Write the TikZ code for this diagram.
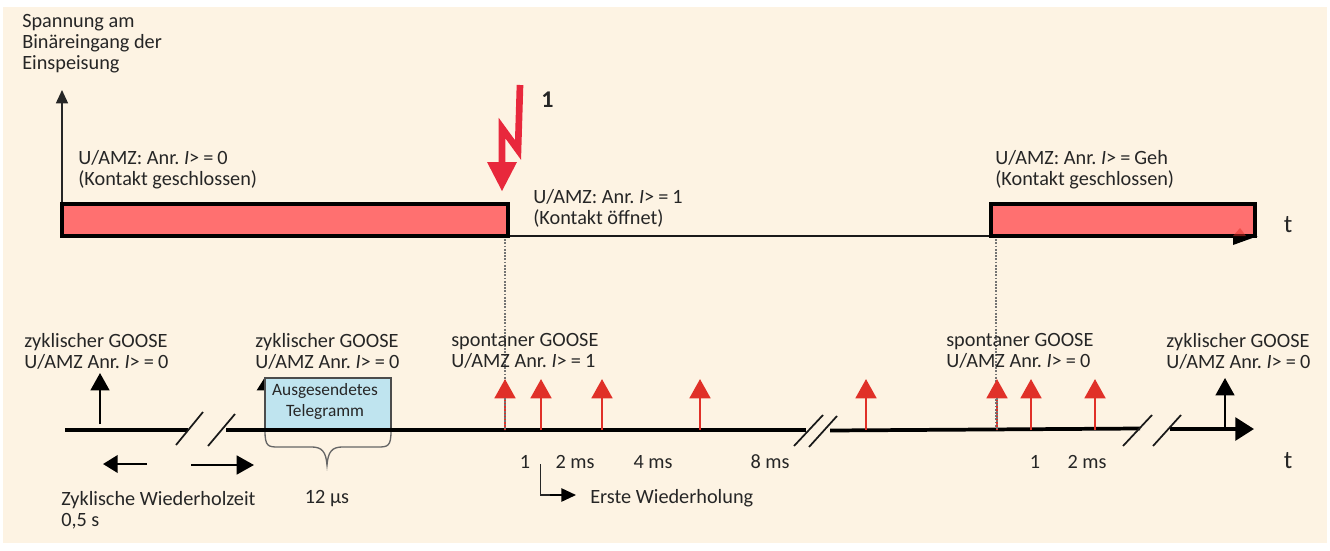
\documentclass[tikz,border=0pt]{standalone}
\usepackage{fontspec}
\setmainfont{Carlito}
\usetikzlibrary{arrows.meta}
\definecolor{bgcream}{HTML}{FDF3E3}
\definecolor{pulsered}{HTML}{FF7070}
\definecolor{boltred}{HTML}{E8283C}
\definecolor{arrowred}{HTML}{E03028}
\definecolor{boxblue}{HTML}{BFE4EF}
\tikzset{
  lbl/.style={anchor=west,inner sep=0pt,font=\fontsize{15.2}{15.75}\selectfont,align=left,text=black!85},
  tick/.style={anchor=center,inner sep=0pt,font=\fontsize{15.2}{15.75}\selectfont,text=black!85},
  pulse/.style={draw=black,line width=2.8pt,fill=pulsered},
  track/.style={line width=2.8pt,black},
  slash/.style={line width=1.3pt,black!90},
  redup/.style={line width=2.2pt,arrowred,-{Triangle[length=14.5pt,width=15.5pt]}},
  blackup/.style={line width=1.8pt,black,-{Triangle[length=13pt,width=14pt]}},
  dots/.style={densely dotted,line width=1.4pt,black!55}
}
\newcommand{\anr}{Anr.\ \textit{I}>\hspace{.2em}=\hspace{.2em}}
\begin{document}
\begin{tikzpicture}[x=0.75pt,y=-0.75pt]
\useasboundingbox (0,0) rectangle (1330,550);
\fill[bgcream] (3,7) rectangle (1327,543);

% upper trace
\draw[line width=1.1pt,black!85,-{Triangle[length=10pt,width=9pt]}] (62,236) to (62,90);
\draw[dots] (505,236) to (505,430);
\draw[dots] (996,236) to (996,430);
\draw[line width=1.5pt,black!90] (508,236) to (991,236);
\draw[pulse] (62,204) rectangle (508,236);
\draw[pulse] (991,204) rectangle (1255,236);
\fill[black] (1233,236) -- (1258,236) -- (1233,245) -- cycle;
\fill[arrowred,opacity=.5] (1233,236) -- (1240,228) -- (1246,236) -- cycle;

% lightning
\draw[boltred,line width=5pt,miter limit=10] (520,85) -- (518,150) -- (502,128) -- (502,165);
\fill[boltred] (487,162) -- (517,162) -- (502,191) -- cycle;

\node[lbl] (axislabel) at (22,44) {Spannung am\\Binäreingang der\\Einspeisung};
\node[lbl,font=\fontsize{18}{15.75}\selectfont\bfseries] (boltlabel) at (541,100) {1};
\node[lbl] (stateone) at (78,170) {U/AMZ: \anr 0\\(Kontakt geschlossen)};
\node[lbl] (statetwo) at (533,208) {U/AMZ: \anr 1\\(Kontakt öffnet)};
\node[lbl] (statethree) at (995,170) {U/AMZ: \anr Geh\\(Kontakt geschlossen)};
\node[tick,font=\fontsize{19}{19}\selectfont] (tupper) at (1288,225) {t};

% lower time line
\draw[blackup,-{Triangle[length=10pt,width=12pt]}] (265,430) to (265,377);
\draw[black!70,fill=boxblue,line width=1.2pt] (265,430) rectangle (391,378);
\node[tick,font=\fontsize{13}{15.75}\selectfont,align=center] (telegram) at (325,401) {Ausgesendetes\\Telegramm};
\draw[black!60,line width=1pt] (265,431) .. controls (265,446) and (268,447) .. (278,447) -- (312,447) .. controls (322,447) and (326,452) .. (327,465) .. controls (328,452) and (332,447) .. (342,447) -- (378,447) .. controls (388,447) and (391,446) .. (391,431);
\draw[track] (65,430) to (188,430);
\draw[track] (226,430) to (806,430);
\draw[track] (830,430.5) to (1140,428.5);
\draw[track,-{Triangle[length=14pt,width=17pt]}] (1170,429) to (1254,429);
\draw[slash] (176,445) to (203,412);
\draw[slash] (208,446) to (235,414);
\draw[slash] (794,446) to (823,415);
\draw[slash] (809,447) to (837,416);
\draw[slash] (1123,446) to (1152,415);
\draw[slash] (1153,446) to (1181,415);

\draw[blackup] (100,424) to (100,373);
\draw[blackup] (1225,429) to (1225,378);
\foreach \px in {505,541,602,700,866,997,1031,1095}
  \draw[redup] (\px,430) to (\px,379);
\draw[dots] (505,398) to (505,430);
\draw[dots] (997,398) to (997,430);

\node[lbl] (gooseone) at (24,351) {zyklischer GOOSE\\U/AMZ \anr 0};
\node[lbl] (goosetwo) at (255,351) {zyklischer GOOSE\\U/AMZ \anr 0};
\node[lbl] (goosethree) at (451,351) {spontaner GOOSE\\U/AMZ \anr 1};
\node[lbl] (goosefour) at (946,351) {spontaner GOOSE\\U/AMZ \anr 0};
\node[lbl] (goosefive) at (1166,351) {zyklischer GOOSE\\U/AMZ \anr 0};

% durations
\draw[line width=2pt,black,-{Triangle[length=11pt,width=13pt]}] (147,464) to (103,464);
\draw[line width=2pt,black,-{Triangle[length=13pt,width=14pt]}] (191,465) to (254,465);
\node[lbl] (cycletime) at (61,510) {Zyklische Wiederholzeit\\0,5 s};
\node[tick] (micro) at (327,499) {12 µs};
\node[tick] (tickone) at (525,462) {1};
\node[tick] (ticktwo) at (575,462) {2 ms};
\node[tick] (tickfour) at (653,462) {4 ms};
\node[tick] (tickeight) at (770,462) {8 ms};
\node[tick] (tickoneb) at (1035,462) {1};
\node[tick] (ticktwob) at (1087,462) {2 ms};
\node[tick,font=\fontsize{19}{19}\selectfont] (tlower) at (1288,461) {t};
\node[lbl] (firstrepeat) at (590,498) {Erste Wiederholung};
\draw[line width=.9pt,black!85] (540.5,464) to (540.5,495) to (552,495);
\draw[line width=1.2pt,black,-{Triangle[length=11pt,width=10pt]}] (550,495) to (576,495);
\end{tikzpicture}
\end{document}
